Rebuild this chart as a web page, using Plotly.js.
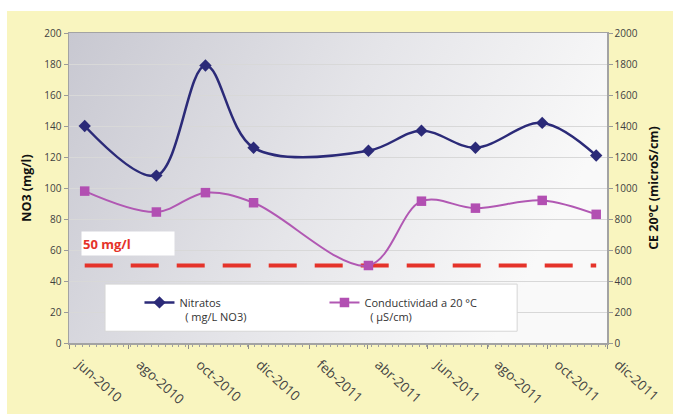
<!DOCTYPE html>
<html>
<head>
<meta charset="utf-8">
<script src="https://cdn.plot.ly/plotly-3.0.1.min.js"></script>
<style>
  html, body { margin: 0; padding: 0; background: #ffffff; }
  #chart { position: absolute; left: 7px; top: 11px; width: 666px; height: 403px; }
</style>
</head>
<body>
<div id="chart"></div>
<script>
// ---- data ----
const sampleDates = ['2010-06-17', '2010-08-29', '2010-10-18', '2010-12-06', '2011-04-02',
                     '2011-05-26', '2011-07-20', '2011-09-26', '2011-11-20'];
const nitratos = [140, 108, 179, 126, 124, 137, 126, 142, 121];
const conductividad = [980, 845, 970, 905, 500, 915, 870, 920, 830];
const limitValue = 50;
const tickDates = ['2010-06-01', '2010-08-01', '2010-10-01', '2010-12-01', '2011-02-01',
                   '2011-04-01', '2011-06-01', '2011-08-01', '2011-10-01', '2011-12-01'];
const tickLabels = ['jun-2010', 'ago-2010', 'oct-2010', 'dic-2010', 'feb-2011',
                    'abr-2011', 'jun-2011', 'ago-2011', 'oct-2011', 'dic-2011'];
const leftTicks = [0, 20, 40, 60, 80, 100, 120, 140, 160, 180, 200];
const rightTicks = [0, 200, 400, 600, 800, 1000, 1200, 1400, 1600, 1800, 2000];

const FONT = 'Open Sans, DejaVu Sans, sans-serif';

const gradSvg = '<svg xmlns="http://www.w3.org/2000/svg" width="100" height="100" preserveAspectRatio="none">' +
  '<defs><linearGradient id="g" x1="0" y1="0" x2="1" y2="0.3">' +
  '<stop offset="0" stop-color="#c8c8d1"/><stop offset="0.55" stop-color="#e5e5e9"/><stop offset="1" stop-color="#f9f9f9"/>' +
  '</linearGradient></defs><rect width="100" height="100" fill="url(#g)"/></svg>';
const gradUri = 'data:image/svg+xml;utf8,' + encodeURIComponent(gradSvg);

const traces = [
  {
    x: [sampleDates[0], sampleDates[sampleDates.length - 1]],
    y: [limitValue, limitValue],
    type: 'scatter', mode: 'lines',
    line: { color: '#e5332a', width: 4, dash: '28px,18px' },
    showlegend: false, hoverinfo: 'skip', yaxis: 'y'
  },
  {
    x: sampleDates, y: nitratos,
    name: 'Nitratos<br>&nbsp;&nbsp;( mg/L NO3)',
    type: 'scatter', mode: 'lines+markers',
    line: { color: '#2b2a78', width: 2.5, shape: 'spline', smoothing: 1 },
    marker: { symbol: 'diamond', size: 9.5, color: '#2b2a78' },
    yaxis: 'y'
  },
  {
    x: sampleDates, y: conductividad,
    name: 'Conductividad a 20 °C<br>&nbsp;&nbsp;( µS/cm)',
    type: 'scatter', mode: 'lines+markers',
    line: { color: '#b158b3', width: 2, shape: 'spline', smoothing: 1 },
    marker: { symbol: 'square', size: 9.5, color: '#b24fb2' },
    yaxis: 'y2'
  }
];

const layout = {
  width: 666, height: 403,
  margin: { l: 62, r: 66, t: 22, b: 71 },
  paper_bgcolor: '#f9f5bf',
  plot_bgcolor: 'rgba(0,0,0,0)',
  showlegend: true,
  font: { family: FONT, color: '#3a3a3a' },
  xaxis: {
    type: 'date',
    range: ['2010-06-01', '2011-12-01'],
    tickmode: 'array', tickvals: tickDates, ticktext: tickLabels,
    tickangle: 42,
    ticklabelshift: 11, ticklabelstandoff: 3,
    tickfont: { size: 13.5, color: '#444444', family: FONT },
    ticks: 'outside', ticklen: 4, tickcolor: '#8c8c8c',
    minor: { ticks: 'outside', ticklen: 2, tickcolor: '#a0a0a0', dtick: 7 * 86400000, tick0: '2010-06-01', showgrid: false },
    showgrid: false, zeroline: false,
    showline: true, mirror: true, linecolor: '#a3a3a3', linewidth: 1.5,
    fixedrange: true
  },
  yaxis: {
    range: [0, 200],
    tickmode: 'array', tickvals: leftTicks,
    tickfont: { size: 10, color: '#3f3f3f', family: FONT },
    ticks: 'outside', ticklen: 4, tickcolor: '#9a9a9a',
    showgrid: true, gridcolor: '#d8d8d8', gridwidth: 1,
    zeroline: false,
    showline: true, linecolor: '#a3a3a3', linewidth: 1.5,
    title: { text: 'NO3 (mg/l)', font: { size: 12.5, color: '#111111', family: FONT, weight: 'bold' }, standoff: 10 },
    fixedrange: true
  },
  yaxis2: {
    range: [0, 2000],
    overlaying: 'y', side: 'right',
    tickmode: 'array', tickvals: rightTicks,
    tickfont: { size: 10, color: '#3f3f3f', family: FONT },
    ticks: 'outside', ticklen: 4, tickcolor: '#9a9a9a',
    showgrid: false, zeroline: false,
    showline: true, linecolor: '#a3a3a3', linewidth: 1.5,
    title: { text: 'CE 20ºC (microS/cm)', font: { size: 12.5, color: '#111111', family: FONT, weight: 'bold' }, standoff: 12 },
    fixedrange: true
  },
  legend: {
    orientation: 'h',
    x: 0.131, y: 0.175, xanchor: 'left', yanchor: 'top',
    bgcolor: 'rgba(0,0,0,0)', borderwidth: 0,
    font: { size: 11, color: '#333333', family: FONT },
    entrywidth: 140, entrywidthmode: 'pixels',
    itemwidth: 30, valign: 'top',
    traceorder: 'normal'
  },
  images: [{
    source: gradUri, xref: 'paper', yref: 'paper',
    x: 0, y: 1, sizex: 1, sizey: 1, xanchor: 'left', yanchor: 'top',
    sizing: 'stretch', layer: 'below'
  }],
  shapes: [{
    type: 'rect', xref: 'paper', yref: 'paper',
    x0: 0.067, x1: 0.833, y0: 0.038, y1: 0.19,
    fillcolor: '#ffffff', line: { color: '#d6d6d6', width: 1 }, layer: 'above'
  }],
  annotations: [{
    xref: 'paper', yref: 'y', x: 0.022, y: 64, xanchor: 'left', yanchor: 'middle',
    text: '<b>50 mg/l</b>', showarrow: false,
    font: { size: 13, color: '#e5332a', family: FONT },
    bgcolor: '#ffffff', width: 90, height: 21, align: 'left', borderpad: 1
  }]
};

Plotly.newPlot('chart', traces, layout, { displayModeBar: false, staticPlot: true });
</script>
</body>
</html>
